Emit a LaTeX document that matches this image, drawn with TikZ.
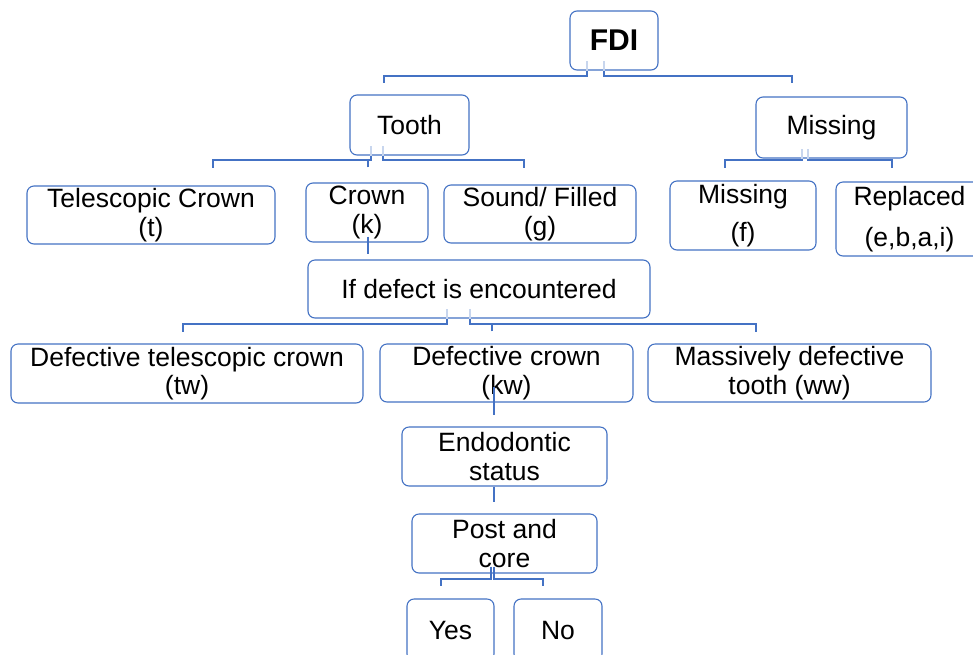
\documentclass[tikz,border=0pt]{standalone}
\usepackage{fontspec}
\setmainfont{Liberation Sans}
\definecolor{ln}{RGB}{68,114,196}
\definecolor{lnfaint}{RGB}{200,214,238}
\newcommand\fsz{\fontsize{26.5}{28.5}\selectfont}
\tikzset{
  box/.style={draw=ln, line width=1.1pt, rounded corners=7pt, align=center,
              inner sep=0pt, font=\fsz, text=black},
  bx/.style 2 args={box, minimum width=#1, minimum height=#2},
  conn/.style={draw=ln, line width=1.1pt},
  faint/.style={draw=lnfaint, line width=1.1pt}
}
\begin{document}
\begin{tikzpicture}[x=1pt,y=-1pt]
\useasboundingbox (0,0) rectangle (973,654);
\clip (0,0) rectangle (973,654);
\fill[white] (0,0) rectangle (973,654);

% nodes
\node[bx={88pt}{59pt}, font=\fontsize{30}{32}\selectfont\bfseries] (fdi) at (614,40.5) {FDI};
\node[bx={119pt}{60pt}] (tooth) at (409.5,125) {Tooth};
\node[bx={151pt}{61pt}] (miss) at (831.5,127.5) {Missing};
\node[bx={248pt}{58pt}] (tele) at (151,215) {Telescopic Crown\\(t)};
\node[bx={122pt}{59pt}] (crown) at (367,212.5) {Crown\\(k)};
\node[bx={192pt}{58pt}] (sound) at (540,214) {Sound/ Filled\\(g)};
\node[bx={146pt}{69pt}] (missf) at (743,215.5) {Missing\\[9pt](f)};
\node[bx={147pt}{74pt}] (repl) at (909.5,219) {Replaced\\[12pt](e,b,a,i)};
\node[bx={342pt}{58pt}] (ifdef) at (479,289) {If defect is encountered};
\node[bx={352pt}{59pt}] (dtc) at (187,373.5) {Defective telescopic crown\\(tw)};
\node[bx={253pt}{58pt}] (dc) at (506.5,373) {Defective crown\\(kw)};
\node[bx={283pt}{58pt}] (mdt) at (789.5,373) {Massively defective\\tooth (ww)};
\node[bx={205pt}{59pt}] (endo) at (504.5,456.5) {Endodontic\\status};
\node[bx={185pt}{59pt}] (post) at (504.5,543.5) {Post and\\core};
\node[bx={87pt}{62pt}] (yes) at (450.5,630) {Yes};
\node[bx={88pt}{62pt}] (no) at (558,630) {No};

% FDI connectors
\draw[faint] (fdi.south -| 587,0) -- ++(0,-10);
\draw[faint] (fdi.south -| 604,0) -- ++(0,-10);
\draw[conn] (fdi.south -| 587,0) -- (587,76) -| (384,83);
\draw[conn] (fdi.south -| 604,0) -- (604,76) -| (792,83);

% Tooth connectors
\draw[faint] (tooth.south -| 371,0) -- ++(0,-10);
\draw[faint] (tooth.south -| 383,0) -- ++(0,-10);
\draw[conn] (tooth.south -| 371,0) -- (371,160) -| (213,168);
\draw[conn] (tooth.south -| 383,0) -- (383,160) -| (524,168);
\draw[conn] (crown.north -| 368,0) ++(0,-15) -- ++(0,-8);

% Missing connectors
\draw[faint] (miss.south -| 802,0) -- ++(0,-10);
\draw[faint] (miss.south -| 808,0) -- ++(0,-10);
\draw[conn] (miss.south -| 802,0) -- (802,160) -| (725,168);
\draw[conn] (miss.south -| 808,0) -- (808,160) -| (892,168);

% Crown -> If defect
\draw[conn] (crown.south -| 368,0) ++(0,-6) -- ++(0,17);

% If defect connectors
\draw[faint] (ifdef.south -| 447,0) -- ++(0,-10);
\draw[faint] (ifdef.south -| 470,0) -- ++(0,-10);
\draw[conn] (ifdef.south -| 447,0) -- (447,324) -| (183,332);
\draw[conn] (ifdef.south -| 470,0) -- (470,324) -| (756,332);
\draw[conn] (dc.north -| 492,0) ++(0,-12) -- ++(0,-8);

% Defective crown -> Endodontic -> Post
\draw[conn] (dc.south -| 494,0) ++(0,-16) -- ++(0,28);
\draw[conn] (endo.south -| 494,0) -- ++(0,15);

% Post and core connectors
\draw[conn] (post.south -| 491,0) ++(0,-7) -- (491,579) -| (441,586);
\draw[conn] (post.south -| 494,0) ++(0,-7) -- (494,579) -| (543,586);
\end{tikzpicture}
\end{document}
